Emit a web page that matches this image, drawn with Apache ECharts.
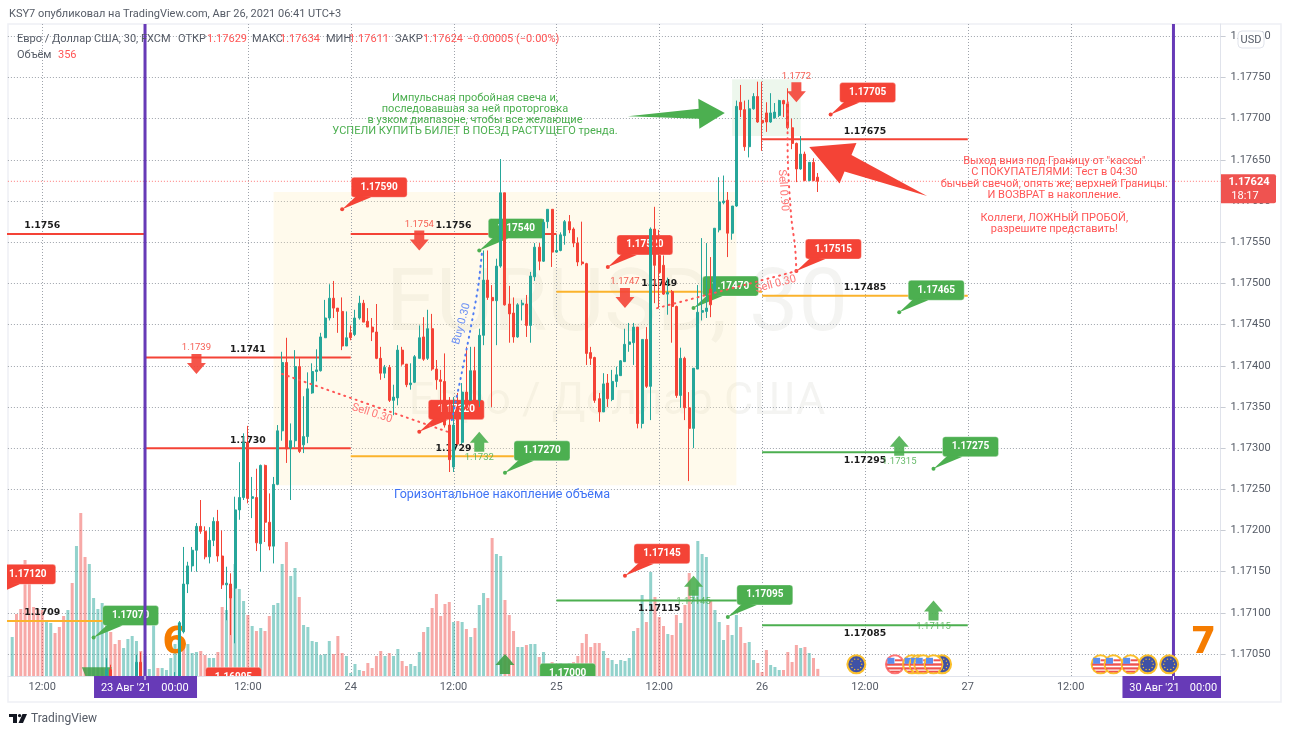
<!DOCTYPE html>
<html><head><meta charset="utf-8">
<style>html,body{margin:0;padding:0;background:#fff}#chart{width:1290px;height:735px}</style>
<script src="https://cdn.jsdelivr.net/npm/echarts@6/dist/echarts.min.js"></script>
</head><body><div id="chart"></div>
<script>
// EUR/USD 30-minute bars. Bar numbers count half-hour sessions along the time axis.
const priceBase = 1.17, pointSize = 1e-5;
const firstCandle = 23;
// open, close, low, high in points above 1.17000
const candles = [
[18,31,12,45],[31,18,10,37],[18,14,8,20],[14,10,5,18],[10,15,6,19],[15,12,7,20],[12,16,8,21],
[18,40,16,49],[40,18,14,52],[18,22,12,25],[20,14,9,22],[14,18,8,21],[18,13,9,20],[13,16,8,20],
[16,12,7,19],[12,17,9,21],[10,20,8,28],[15,88,10,90],[77,135,75,180],[135,157,124,162],
[157,176,150,180],[176,205,150,209],[205,199,196,237],[199,168,165,205],[168,188,160,204],
[188,211,181,216],[211,169,162,225],[169,134,129,200],[134,136,91,156],[135,118,73,148],
[130,225,63,241],[225,240,213,283],[240,307,237,318],[307,239,233,327],[239,241,215,265],
[240,185,175,275],[184,279,150,280],[279,210,186,280],[210,181,176,245],[181,256,160,265],
[256,321,255,328],[321,404,309,417],[404,299,282,434],[300,309,237,330],[309,399,301,419],
[399,296,294,409],[304,314,294,363],[314,372,306,392],[367,393,366,403],[393,395,381,420],
[394,435,393,440],[434,458,434,480],[458,482,455,499],[482,470,458,503],[470,466,440,470],
[466,424,419,483],[424,434,424,466],[440,434,431,449],[438,458,436,468],[458,476,456,485],
[476,453,453,480],[454,447,447,470],[447,441,430,458],[441,409,408,475],[409,391,383,423],
[391,398,385,401],[398,358,356,401],[358,362,340,377],[361,419,352,425],[419,402,400,423],
[402,377,374,402],[377,379,371,403],[380,411,379,413],[409,434,409,449],[435,408,406,459],
[409,445,407,468],[445,396,394,463],[396,383,371,407],[383,381,338,395],[381,328,325,415],
[328,286,271,362],[277,328,271,362],[350,305,304,367],[307,368,305,379],[368,349,346,423],
[358,394,358,423],[394,358,355,423],[358,437,350,445],[437,504,425,540],[504,483,480,540],
[483,479,350,498],[479,521,425,530],[521,610,519,651],[610,474,473,610],[475,463,428,497],
[464,435,428,483],[435,474,434,476],[474,476,455,480],[475,449,435,486],[449,509,428,514],
[508,544,503,549],[544,527,516,549],[527,574,526,578],[575,590,567,590],[590,538,520,590],
[538,540,537,559],[540,559,539,562],[558,575,547,577],[575,565,561,583],[566,549,544,568],
[549,526,521,556],[526,524,522,575],[524,415,401,525],[416,409,401,423],[410,358,355,411],
[360,344,332,367],[344,378,344,391],[379,360,350,390],[359,381,357,395],[381,389,374,399],
[388,406,388,407],[405,426,405,445],[426,429,417,452],[428,447,401,452],[447,330,324,447],
[330,432,324,432],[432,375,373,447],[375,566,334,568],[566,522,476,593],[534,513,470,565],
[522,487,486,534],[487,489,462,507],[490,472,428,492],[472,364,361,473],[364,409,349,422],
[409,349,334,411],[349,324,260,368],[324,397,300,397],[396,465,396,498],[465,467,455,555],
[466,470,458,549],[493,474,459,532],[488,567,486,567],[565,599,562,629],[598,600,596,631],
[601,561,532,611],[561,594,553,594],[594,715,593,722],[720,711,702,741],[711,666,661,722],
[666,712,653,723],[712,727,711,731],[727,696,695,745],[698,695,661,745],[707,696,684,720],
[696,707,695,731],[701,708,700,719],[704,722,702,723],[722,718,702,723],[718,689,687,737],
[689,670,663,700],[670,639,623,671],[639,657,638,679],[657,625,624,660],[625,647,624,647],
[647,625,624,652],[629,624,611,634]
];
// Volumes, starting at bar 1; u = rising bar, d = falling bar
const volumes = [
1950,3100,3350,5800,5200,3450,3350,3300,2750,2650,2150,2450,3000,3300,4650,6500,8150,5950,5600,3900,
3350,3650,3450,2200,1600,1800,1400,1850,2000,1750,1250,1000,350,2650,400,400,300,900,1600,2650,
1600,1600,1150,1200,1250,1050,900,900,1200,3450,3300,4400,5600,4350,3750,3050,2500,2250,2400,2250,
3000,3550,3650,5600,6700,5000,5400,3950,2550,2450,1750,1700,1050,1100,1750,1100,2000,1150,1000,150,
600,300,250,650,400,1000,1250,1000,1150,1000,1350,750,500,600,500,1200,2200,2450,3400,4100,
3000,3600,3700,2700,2750,2700,2350,1950,2400,3550,4150,3900,6900,6100,6000,3800,3050,2250,1450,1450,
1550,1600,1600,950,1200,600,700,550,650,600,650,700,1000,1650,2100,1450,1650,1650,1250,900,
800,600,800,750,900,2250,2400,4050,2700,5200,3950,2950,2500,2100,2050,3050,2650,3550,5150,4300,
6750,6100,5950,3800,3300,2700,1800,2550,2050,3050,2450,1650,1700,800,650,200,1300,550,450,300,
300,1200,700,1550,1400,1450,1150,900,356
];
const volumeDirection = [
'uddddddduu','dddududduu','uuuddduuuu','duuuduuuuu','duuudduudd','uduuududud','duuuduuduu',
'uuuuuddduu','uudddddudu','udduuududd','dddudududu','udduuddduu','duududduuu','udddddddud',
'uuuuuududu','dddudduddu','uuuduuuduu','dduuddduuu','ddddududd'
].join('');

const barCount = 284;
const timeTicks = [[8,'12:00'],[32,''],[56,'12:00'],[80,'24'],[104,'12:00'],[128,'25'],[152,'12:00'],
  [176,'26'],[200,'12:00'],[224,'27'],[248,'12:00'],[272,'']];
const priceTicks = ['1.17050','1.17100','1.17150','1.17200','1.17250','1.17300','1.17350','1.17400',
  '1.17450','1.17500','1.17550','1.17600','1.17650','1.17700','1.17750','1.17800'];

// Horizontal trading levels: first bar, last bar, price
const redLevels = [[-16,32,'1.1756'],[32,80,'1.1741'],[32,80,'1.1730'],[80,128,'1.1756'],[176,224,'1.17675']];
const yellowLevels = [[-16,32,'1.1709'],[80,128,'1.1729'],[128,176,'1.1749'],[176,224,'1.17485']];
const greenLevels = [[176,224,'1.17295'],[128,176,'1.17115'],[176,224,'1.17085']];
// Price call-outs: bar the pointer touches, price
const redTags = [[78,'1.17590'],[96,'1.17320'],[140,'1.17520'],[184,'1.17515'],[192,'1.17705'],
  [144,'1.17145'],[-4,'1.17120'],[44,'1.16995']];
const greenTags = [[110,'1.17540'],[116,'1.17270'],[160,'1.17470'],[208,'1.17465'],[216,'1.17275'],
  [168,'1.17095'],[20,'1.17070'],[122,'1.17000']];
// Small entry arrows: bar, price at the point of the arrow
const downArrows = [[44,'1.1739'],[96,'1.1754'],[144,'1.1747'],[184,'1.1772']];
const upArrows = [[110,'1.1732'],[208,'1.17315'],[216,'1.17115'],[160,'1.17145']];
const unlabelledUpArrows = [[116,'1.17050']];
// Long pointers: tail bar, tail price, tip bar, tip price
const greenPointer = [144.7,1.17703,167.3,1.17707];
const redPointer = [214.5,1.17606,187,1.176655];
// Trade paths: bar, price
const sellPathA = [[64,1.1739],[102.5,1.1732]];
const sellPathB = [[151.5,1.1747],[184,1.17515]];
const sellPathC = [[182,1.1772],[182,1.1765],[182.8,1.17581],[183.7,1.17544],[184,1.17515]];
const buyPath = [[103.6,1.17334],[105.9,1.17391],[107.9,1.17443],[109.7,1.17495],[110.6,1.17536]];
const pathLabels = [[85,1.17342,'Sell 0.30',-0.31,'#f77'],[179.2,1.17499,'Sell 0.30',0.26,'#f77'],
  [180.9,1.17613,'Sell 0.90',-1.5,'#f77'],[105.9,1.17451,'Buy 0.30',1.3,'#6a8ff5']];
// Accumulation zones: first bar, last bar, low price, high price
const accumulationZone = [62,170,1.17255,1.17611];
const breakoutZone = [169,185,1.17679,1.17748];
// Economic calendar events: bar
const usEvents = [207,211,212.5,213.6,216,255,258,262];
const euEvents = [198,218,266,271];
const eventPrice = 1.170375;
const markerBars = [32,272];
const lastPrice = '1.17624';
const commentGreen = 'Импульсная пробойная свеча и,\nпоследовавшая за ней проторговка\nв узком диапазоне, чтобы все желающие\nУСПЕЛИ КУПИТЬ БИЛЕТ В ПОЕЗД РАСТУЩЕГО тренда.';
const commentRed = 'Выход вниз под Границу от "кассы"\nС ПОКУПАТЕЛЯМИ. Тест в 04:30\nбычьей свечой, опять же, верхней Границы.\nИ ВОЗВРАТ в накопление.\n\nКоллеги, ЛОЖНЫЙ ПРОБОЙ,\nразрешите представить!';
const commentBlue = 'Горизонтальное накопление объёма';
const headerLine = 'KSY7 опубликовал на TradingView.com, Авг 26, 2021 06:41 UTC+3';
const legendLabels = [['Евро / Доллар США, 30, FXCM',17],['ОТКР',178],['МАКС',252],['МИН',326],['ЗАКР',395]];
const legendValues = [['1.17629',207],['1.17634',280],['1.17611',349],['1.17624',423],['−0.00005 (−0.00%)',467]];

const RED='#f44336', GREEN='#4caf50', YELLOW='#fbb32c', TEAL='#26a69a', PURPLE='#673ab7', GREY='#555b66';
const FONT='Roboto';

const price = p => priceBase + p*pointSize;
const at = (api,j,p) => {
  const a = api.coord([0,p]), b = api.coord([1,p]);
  return [a[0]+(b[0]-a[0])*j, a[1]];
};
const txt = (x,y,text,fill,font,extra) => Object.assign({type:'text',x,y,silent:true,
  style:{text,fill,font,align:'center',verticalAlign:'middle'}},extra||{});
const poly = (pts,fill,opacity) => ({type:'polygon',shape:{points:pts},style:{fill,opacity:opacity==null?1:opacity}});
const layer = (z,clip,draw) => ({type:'custom',z,clip,silent:true,coordinateSystem:'cartesian2d',xAxisIndex:0,yAxisIndex:0,
  data:[[0,priceBase]],encode:{x:0,y:1},tooltip:{show:false},
  renderItem:(params,api)=>({type:'group',children:draw(api)})});

function zoneRect(api,z,fill){
  const a=at(api,z[0],z[3]), b=at(api,z[1],z[2]);
  return {type:'rect',shape:{x:a[0],y:a[1],width:b[0]-a[0],height:b[1]-a[1]},style:{fill}};
}
function drawLevels(api,list,color,labelDy){
  const out=[];
  list.forEach(l=>{
    const p=Number(l[2]), a=at(api,l[0],p), b=at(api,l[1],p);
    out.push({type:'line',shape:{x1:a[0],y1:a[1],x2:b[0],y2:b[1]},style:{stroke:color,lineWidth:2}});
    out.push(txt((a[0]+b[0])/2,a[1]+labelDy,l[2],'#1c1c1c','bold 9.3px "DejaVu Sans"'));
  });
  return out;
}
function drawTags(api,list,color){
  const out=[];
  list.forEach(t=>{
    const a=at(api,t[0],Number(t[1])), cx=a[0]+37, cy=a[1]-22;
    out.push({type:'rect',shape:{x:cx-28,y:cy-10,width:56,height:20,r:3},style:{fill:color,stroke:'rgba(255,255,255,.35)',lineWidth:1}});
    out.push(poly([[a[0],a[1]],[cx-22,cy+8],[cx-8,cy+10]],color));
    out.push({type:'circle',shape:{cx:a[0],cy:a[1],r:2},style:{fill:color}});
    out.push(txt(cx,cy,t[1],'#fff','bold 10px '+FONT));
  });
  return out;
}
function drawArrow(api,j,label,up,color,withLabel){
  const a=at(api,j,Number(label)), x=a[0], y=a[1], s=up?1:-1;
  const out=[poly([[x,y],[x+9.5,y+11*s],[x+5,y+11*s],[x+5,y+20*s],[x-5,y+20*s],[x-5,y+11*s],[x-9.5,y+11*s]],color,.9)];
  if(withLabel) out.push(txt(x,y+26*s,label,color,'9.5px '+FONT,{style:{text:label,fill:color,font:'9.5px '+FONT,align:'center',verticalAlign:'middle',opacity:.85}}));
  return out;
}
function drawPointer(api,v,color,headLen,headHalf,shaftHalf){
  const A=at(api,v[0],v[1]), B=at(api,v[2],v[3]);
  const d=Math.hypot(B[0]-A[0],B[1]-A[1]), ux=(B[0]-A[0])/d, uy=(B[1]-A[1])/d, nx=-uy, ny=ux;
  const bx=B[0]-ux*headLen, by=B[1]-uy*headLen;
  return [poly([A,[bx+nx*shaftHalf,by+ny*shaftHalf],[bx+nx*headHalf,by+ny*headHalf],B,
    [bx-nx*headHalf,by-ny*headHalf],[bx-nx*shaftHalf,by-ny*shaftHalf]],color)];
}
function drawPath(api,pts,color){
  return {type:'polyline',shape:{points:pts.map(p=>at(api,p[0],p[1])),smooth:0.3},
    style:{stroke:color,fill:null,lineWidth:2,lineDash:[1,5],lineCap:'round'}};
}
function drawUsFlag(x,y,ring){
  return [{type:'circle',shape:{cx:x,cy:y,r:9},style:{fill:'#fff',stroke:ring,lineWidth:2}},
    {type:'rect',shape:{x:x,y:y-5,width:7,height:2},style:{fill:'#ef5350'}},
    {type:'rect',shape:{x:x-8.5,y:y-1,width:17,height:2.4},style:{fill:'#ef5350'}},
    {type:'rect',shape:{x:x-7.6,y:y+3,width:15.2,height:2.2},style:{fill:'#ef5350'}},
    {type:'rect',shape:{x:x-4.5,y:y+6.4,width:9,height:1.6},style:{fill:'#ef5350'}},
    {type:'rect',shape:{x:x-7.5,y:y-6.5,width:7,height:6},style:{fill:'#5b8def'}}];
}
function drawEuFlag(x,y){
  const out=[{type:'circle',shape:{cx:x,cy:y,r:9},style:{fill:'#3f51a5',stroke:'#fbc02d',lineWidth:2}}];
  for(let i=0;i<10;i++){const t=i*Math.PI/5;
    out.push({type:'circle',shape:{cx:x+5.4*Math.cos(t),cy:y+5.4*Math.sin(t),r:.7},style:{fill:'#fbc02d'}});}
  return out;
}

// Vertical time grid and the shaded zones sit behind everything else
const zonesLayer = layer(1,true,api=>{
  const c=[zoneRect(api,accumulationZone,'rgba(255,236,179,.25)'),zoneRect(api,breakoutZone,'rgba(76,175,80,.1)')];
  timeTicks.forEach(t=>{
    const a=at(api,t[0],1.17815), b=at(api,t[0],1.170233), x=Math.round(a[0])+.5;
    c.push({type:'line',shape:{x1:x,y1:a[1],x2:x,y2:b[1]},style:{stroke:'#9ea3ab',lineWidth:1,lineDash:[1,2]}});
  });
  return c;
});

const marksLayer = layer(3,true,api=>{
  let c=[];
  const last=Number(lastPrice), l0=at(api,0,last), l1=at(api,283,last);
  c.push({type:'line',shape:{x1:l0[0],y1:l0[1],x2:l1[0],y2:l1[1]},style:{stroke:'#f77',lineWidth:1,lineDash:[1,2]}});
  c=c.concat(drawLevels(api,redLevels,RED,-8),drawLevels(api,yellowLevels,YELLOW,-8),drawLevels(api,greenLevels,GREEN,8));
  c=c.concat(drawTags(api,redTags,RED),drawTags(api,greenTags,GREEN));
  downArrows.forEach(a=>{c=c.concat(drawArrow(api,a[0],a[1],false,RED,true));});
  upArrows.forEach(a=>{c=c.concat(drawArrow(api,a[0],a[1],true,GREEN,true));});
  unlabelledUpArrows.forEach(a=>{c=c.concat(drawArrow(api,a[0],a[1],true,'#3f9f46',false));});
  const w=at(api,21,price(34));
  c.push(poly([[w[0]-16,w[1]],[w[0]+14,w[1]],[w[0]+11,w[1]+10],[w[0]-12,w[1]+10]],'#3f9f46',.85));
  c=c.concat(drawPointer(api,greenPointer,GREEN,26,15,5),drawPointer(api,redPointer,RED,42,22,9));
  // Big session numbers beside the weekly markers
  const six=at(api,39,price(53)), seven=at(api,279,price(53));
  c.push(txt(six[0],six[1]-8,'6','#f57c00','bold 37px "DejaVu Sans"'));
  c.push(txt(seven[0],seven[1]-8,'7','#f57c00','bold 37px "DejaVu Sans"'));
  const g=at(api,109,1.17705), r=at(api,244.2,1.17607), b=at(api,115.3,1.17243);
  c.push(txt(g[0],g[1],commentGreen,GREEN,'11px '+FONT,{style:{text:commentGreen,fill:GREEN,font:'11px '+FONT,align:'center',verticalAlign:'middle',lineHeight:11}}));
  c.push(txt(r[0],r[1],commentRed,'#f55','11px '+FONT,{style:{text:commentRed,fill:'#f55',font:'11px '+FONT,align:'center',verticalAlign:'middle',lineHeight:11.3}}));
  c.push(txt(b[0],b[1],commentBlue,'#3f73f5','12.5px '+FONT));
  return c;
});

const pathsLayer = layer(5,true,api=>{
  const c=[drawPath(api,sellPathA,'#f55'),drawPath(api,sellPathB,'#f55'),drawPath(api,sellPathC,'#f55'),drawPath(api,buyPath,'#4d7cf5')];
  pathLabels.forEach(l=>{const p=at(api,l[0],l[1]);
    c.push(txt(p[0],p[1],l[2],l[4],'11px '+FONT,{rotation:l[3]}));});
  return c;
});

const chromeLayer = layer(6,false,api=>{
  let c=[];
  markerBars.forEach((j,i)=>{
    const t=at(api,j,1.17815), b=at(api,j,1.170233);
    c.push({type:'line',shape:{x1:t[0],y1:t[1],x2:b[0],y2:b[1]},style:{stroke:PURPLE,lineWidth:3}});
    const left=t[0]-51, right=Math.min(t[0]+52,1221);
    c.push({type:'rect',shape:{x:left,y:b[1],width:right-left,height:22},style:{fill:PURPLE}});
    c.push({type:'line',shape:{x1:b[0],y1:b[1],x2:b[0],y2:b[1]+4},style:{stroke:'#fff',lineWidth:1}});
    c.push(txt(t[0]-19,b[1]+12,i===0?"23 Авг '21":"30 Авг '21",'#fff','11px '+FONT));
    c.push(txt(t[0]+30,b[1]+12,'00:00','#fff','11px '+FONT));
  });
  euEvents.forEach(j=>{const p=at(api,j,eventPrice);c=c.concat(drawEuFlag(p[0],p[1]));});
  usEvents.forEach((j,i)=>{const p=at(api,j,eventPrice);c=c.concat(drawUsFlag(p[0],p[1],i===0?'#f77':'#fbc02d'));});
  const y=api.coord([0,Number(lastPrice)])[1];
  c.push({type:'rect',shape:{x:1221,y:y-7,width:55,height:29,r:[0,2,2,0]},style:{fill:'#ef5350'}});
  c.push(txt(1249,y+1,lastPrice,'#fff','bold 11px '+FONT));
  c.push(txt(1245,y+15,'18:17','#fff','11px '+FONT));
  return c;
});

// Fixed page furniture: frame, titles, watermark and footer
const graphicItems = [
  {type:'rect',z:0,silent:true,shape:{x:8,y:24,width:1273,height:678},style:{fill:null,stroke:'#eef0f5',lineWidth:1.5}},
  {type:'text',z:0,silent:true,x:617,y:308,style:{text:'EURUSD, 30',fill:'rgba(60,60,40,.06)',font:'88px '+FONT,align:'center',verticalAlign:'middle'}},
  {type:'text',z:0,silent:true,x:617,y:403,style:{text:'Евро / Доллар США',fill:'rgba(60,60,40,.06)',font:'45px '+FONT,align:'center',verticalAlign:'middle'}},
  {type:'text',silent:true,x:9,y:14,style:{text:headerLine,fill:GREY,font:'11px '+FONT,verticalAlign:'middle'}},
  ...legendLabels.map(l=>({type:'text',silent:true,z:9,x:l[1],y:39,style:{text:l[0],fill:GREY,font:'11px '+FONT,verticalAlign:'middle'}})),
  ...legendValues.map(l=>({type:'text',silent:true,z:9,x:l[1],y:39,style:{text:l[0],fill:'#f55',font:'11px '+FONT,verticalAlign:'middle'}})),
  {type:'text',silent:true,z:9,x:17,y:55,style:{text:'Объём',fill:GREY,font:'11px '+FONT,verticalAlign:'middle'}},
  {type:'text',silent:true,z:9,x:58,y:55,style:{text:'356',fill:'#f55',font:'11px '+FONT,verticalAlign:'middle'}},
  {type:'rect',z:9,silent:true,shape:{x:1238,y:31,width:26,height:17,r:4},style:{fill:'#fff',stroke:'#e0e3eb',lineWidth:1}},
  {type:'text',z:9,silent:true,x:1251,y:40,style:{text:'USD',fill:GREY,font:'11px '+FONT,align:'center',verticalAlign:'middle'}},
  {type:'polygon',silent:true,shape:{points:[[9,714],[17,714],[17,723],[13,723],[13,717],[9,717]]},style:{fill:'#131722'}},
  {type:'circle',silent:true,shape:{cx:19.6,cy:715.6,r:1.7},style:{fill:'#131722'}},
  {type:'polygon',silent:true,shape:{points:[[22.5,714],[27,714],[23,723],[18.5,723]]},style:{fill:'#131722'}},
  {type:'text',silent:true,x:31,y:718.5,style:{text:'TradingView',fill:GREY,font:'12px '+FONT,verticalAlign:'middle'}}
];

const tickBars = timeTicks.map(t=>t[0]);
const option = {
  animation:false,
  backgroundColor:'#fff',
  graphic:{elements:graphicItems},
  grid:{left:7.9,right:69.4,top:24,bottom:59,containLabel:false},
  dataset:{source:candles.map((c,i)=>[firstCandle+i,price(c[0]),price(c[1]),price(c[2]),price(c[3])])},
  xAxis:{type:'category',boundaryGap:false,data:Array.from({length:barCount},(_,j)=>String(j)),
    axisLine:{lineStyle:{color:'#e0e3eb'}},axisTick:{show:false},
    axisLabel:{interval:(i)=>tickBars.includes(i)&&timeTicks[tickBars.indexOf(i)][1]!=='',
      formatter:(v)=>{const k=tickBars.indexOf(Number(v));return k<0?'':timeTicks[k][1];},
      color:GREY,fontFamily:FONT,fontSize:11,margin:6,showMinLabel:true,showMaxLabel:true},
    splitLine:{show:false}},
  yAxis:[
    {type:'value',position:'right',min:1.170233,max:1.17815,scale:true,
     axisLine:{show:true,lineStyle:{color:'#e0e3eb'}},
     axisTick:{show:true,length:5,lineStyle:{color:'#c8ccd4'},customValues:priceTicks.map(Number)},
     axisLabel:{customValues:priceTicks.map(Number),formatter:v=>Number(v).toFixed(5),color:GREY,fontFamily:FONT,fontSize:11,margin:10},
     splitLine:{show:true,lineStyle:{color:'#9ea3ab',type:[1,2],width:1}}},
    {type:'value',min:0,max:32600,show:false,splitLine:{show:false}}
  ],
  series:[
    zonesLayer,
    {type:'bar',z:2,xAxisIndex:0,yAxisIndex:1,barWidth:3,silent:true,encode:{x:0,y:1},
     data:volumes.map((v,i)=>({value:[i+1,v],itemStyle:{color:volumeDirection[i]==='u'?'rgba(38,166,154,.5)':'rgba(239,83,80,.5)'}}))},
    marksLayer,
    {type:'candlestick',z:4,datasetIndex:0,xAxisIndex:0,yAxisIndex:0,barWidth:2.5,silent:true,clip:true,
     encode:{x:0,y:[1,2,3,4]},
     itemStyle:{color:TEAL,color0:RED,borderColor:TEAL,borderColor0:RED,borderWidth:1}},
    pathsLayer,
    chromeLayer
  ]
};
const chart = echarts.init(document.getElementById('chart'),null,{renderer:'canvas'});
chart.setOption(option);
</script></body></html>
